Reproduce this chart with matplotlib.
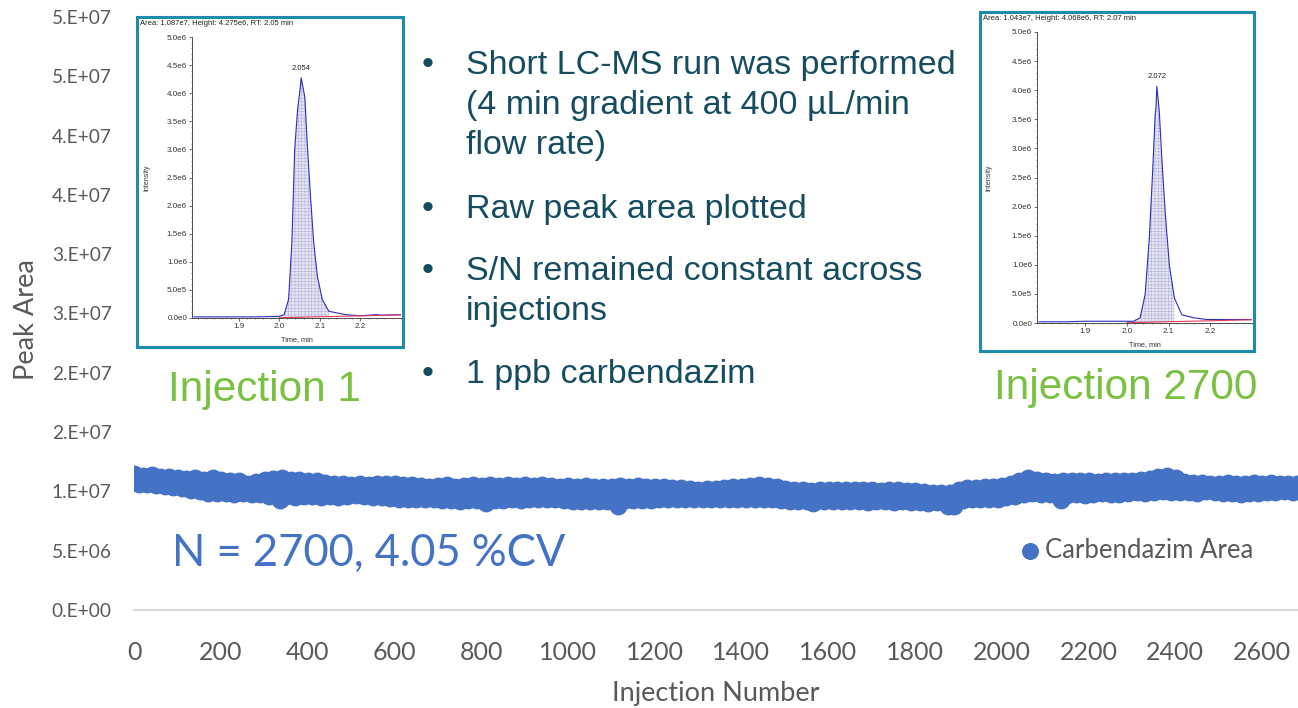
import numpy as np
import matplotlib
matplotlib.use("Agg")
import matplotlib.pyplot as plt
from matplotlib.patches import Rectangle
from matplotlib.ticker import AutoMinorLocator, FuncFormatter

W, H = 1298, 708

# carbendazim peak area, read every 5th injection (units of 1e6), one row per 100 injections
injection = np.arange(1, 2701, 5)
area_e6 = [
    11.45, 11.0, 10.65, 10.95, 11.3, 10.9, 10.6, 11.0, 11.35, 10.85, 10.5, 10.9, 11.2, 10.8, 10.45, 10.85, 11.25, 10.8, 10.4, 10.75,
    11.1, 10.7, 10.3, 10.7, 11.05, 10.6, 10.15, 10.55, 11.1, 10.5, 10.0, 10.5, 11.0, 10.45, 9.9, 10.5, 11.1, 10.5, 9.85, 10.45,
    10.95, 10.4, 9.85, 10.35, 10.9, 10.4, 9.8, 10.3, 10.85, 10.3, 9.85, 10.25, 10.65, 10.2, 9.8, 10.25, 10.8, 10.3, 9.75, 10.4,
    11.0, 10.4, 9.65, 10.3, 11.05, 10.3, 9.6, 9.3, 11.1, 10.4, 9.6, 10.3, 11.0, 10.3, 9.55, 10.2, 10.95, 10.25, 9.6, 10.3,
    10.9, 10.25, 9.6, 10.2, 10.85, 10.2, 9.55, 10.2, 10.75, 10.15, 9.6, 10.1, 10.65, 10.1, 9.55, 10.05, 10.6, 10.1, 9.6, 10.1,
    10.5, 10.1, 9.7, 10.1, 10.6, 10.1, 9.65, 10.05, 10.55, 10.0, 9.55, 10.0, 10.65, 10.05, 9.5, 10.0, 10.6, 10.0, 9.45, 10.0,
    10.65, 10.0, 9.4, 9.95, 10.55, 10.0, 9.4, 9.9, 10.5, 9.95, 9.35, 9.9, 10.45, 9.9, 9.4, 9.9, 10.4, 9.9, 9.35, 9.9,
    10.45, 9.85, 9.3, 9.85, 10.5, 9.9, 9.25, 9.85, 10.4, 9.8, 9.2, 9.8, 10.45, 9.85, 9.25, 9.85, 10.5, 9.9, 9.3, 9.9,
    10.45, 9.8, 8.98, 9.8, 10.5, 9.9, 9.3, 9.85, 10.45, 9.9, 9.3, 9.9, 10.5, 9.9, 9.35, 9.9, 10.45, 9.85, 9.3, 9.9,
    10.5, 9.95, 9.4, 9.9, 10.45, 9.9, 9.35, 9.9, 10.5, 9.95, 9.4, 9.95, 10.45, 9.9, 9.4, 9.9, 10.4, 9.9, 9.3, 9.85,
    10.45, 9.8, 9.2, 9.8, 10.4, 9.8, 9.2, 9.8, 10.45, 9.8, 9.15, 9.75, 10.4, 9.8, 9.2, 9.8, 10.35, 9.75, 9.2, 9.8,
    10.4, 9.8, 9.25, 8.75, 10.45, 9.85, 9.25, 9.8, 10.4, 9.8, 9.3, 9.85, 10.45, 9.85, 9.25, 9.8, 10.4, 9.85, 9.3, 9.85,
    10.4, 9.9, 9.4, 9.9, 10.35, 9.85, 9.35, 9.85, 10.3, 9.8, 9.4, 9.8, 10.25, 9.8, 9.35, 9.8, 10.2, 9.75, 9.4, 9.8,
    10.15, 9.75, 9.4, 9.8, 10.2, 9.8, 9.35, 9.75, 10.2, 9.8, 9.4, 9.8, 10.3, 9.8, 9.4, 9.85, 10.35, 9.85, 9.4, 9.9,
    10.4, 9.9, 9.4, 9.9, 10.45, 9.9, 9.4, 9.9, 10.5, 9.95, 9.4, 9.9, 10.45, 9.9, 9.35, 9.85, 10.4, 9.8, 9.3, 9.8,
    10.2, 9.7, 9.2, 9.65, 10.1, 9.65, 9.2, 9.6, 10.1, 9.65, 9.2, 9.65, 10.05, 8.98, 9.15, 9.6, 10.1, 9.65, 9.2, 9.65,
    10.15, 9.65, 9.15, 9.65, 10.1, 9.6, 9.15, 9.6, 10.15, 9.65, 9.2, 9.65, 10.15, 9.65, 9.15, 9.6, 10.1, 9.6, 9.1, 9.6,
    10.1, 9.6, 9.15, 9.6, 10.05, 9.6, 9.15, 9.6, 10.1, 9.6, 9.1, 9.6, 10.1, 9.6, 9.15, 9.6, 10.05, 9.55, 9.1, 9.55,
    10.0, 9.5, 9.1, 9.5, 9.95, 9.5, 9.05, 9.45, 9.9, 9.45, 9.1, 9.45, 9.85, 9.4, 9.1, 8.73, 9.85, 9.4, 8.8, 9.45,
    10.1, 9.6, 9.3, 9.7, 10.25, 9.75, 9.35, 9.75, 10.3, 9.8, 9.35, 9.8, 10.35, 9.85, 9.4, 9.85, 10.4, 9.9, 9.4, 9.9,
    10.45, 9.95, 9.5, 10.0, 10.6, 10.1, 9.6, 10.1, 10.9, 10.3, 9.8, 10.3, 11.1, 10.4, 9.85, 10.4, 11.0, 10.4, 9.8, 10.35,
    10.85, 10.3, 9.75, 10.25, 10.8, 10.2, 9.7, 9.3, 10.85, 10.25, 9.7, 10.25, 10.9, 10.3, 9.75, 10.3, 10.85, 10.3, 9.7, 10.3,
    10.85, 10.3, 9.8, 10.3, 10.8, 10.3, 9.85, 10.3, 10.85, 10.35, 9.8, 10.3, 10.9, 10.35, 9.8, 10.35, 10.85, 10.35, 9.85, 10.4,
    10.9, 10.4, 9.95, 10.4, 11.0, 10.45, 9.9, 10.5, 11.05, 10.5, 9.95, 10.55, 11.2, 10.6, 10.0, 10.6, 11.3, 10.6, 9.95, 10.6,
    11.1, 10.5, 9.95, 10.4, 10.8, 10.35, 9.95, 10.35, 10.7, 10.3, 9.9, 10.3, 10.7, 10.35, 10.0, 10.35, 10.65, 10.3, 9.95, 10.3,
    10.65, 10.25, 9.85, 10.25, 10.7, 10.3, 9.85, 10.25, 10.65, 10.25, 9.8, 10.2, 10.6, 10.2, 9.85, 10.25, 10.7, 10.3, 9.9, 10.3,
    10.65, 10.3, 9.95, 10.3, 10.7, 10.3, 9.95, 10.3, 10.65, 10.3, 10.0, 10.3, 10.6, 10.3, 9.95, 10.3, 10.65, 10.3, 9.95, 10.3,
]

x_ticks = [0, 200, 400, 600, 800, 1000, 1200, 1400, 1600, 1800, 2000, 2200, 2400, 2600]
y_ticks = [0, 5e6, 1e7, 1.5e7, 2e7, 2.5e7, 3e7, 3.5e7, 4e7, 4.5e7, 5e7]
y_tick_labels = ['0.E+00', '5.E+06', '1.E+07', '2.E+07', '2.E+07', '3.E+07',
                 '3.E+07', '4.E+07', '4.E+07', '5.E+07', '5.E+07']

# XIC traces for the first and last injection (min, intensity x1e6)
inj1_time = [1.79, 1.85, 1.90, 1.95, 2.00, 2.012, 2.023, 2.031, 2.038, 2.045, 2.051,
             2.054, 2.063, 2.069, 2.077, 2.085, 2.094, 2.106, 2.122, 2.163, 2.20,
             2.24, 2.25, 2.30]
inj1_int = [0.02, 0.02, 0.02, 0.02, 0.03, 0.06, 0.33, 1.33, 2.99, 3.70, 4.05,
            4.275, 3.93, 3.10, 2.16, 1.33, 0.74, 0.33, 0.12, 0.06, 0.04,
            0.06, 0.05, 0.06]
inj2700_time = [1.79, 1.85, 1.90, 1.95, 2.00, 2.016, 2.032, 2.044, 2.054, 2.062,
                2.068, 2.070, 2.072, 2.078, 2.084, 2.092, 2.102, 2.114, 2.132,
                2.16, 2.192, 2.21, 2.30]
inj2700_int = [0.02, 0.02, 0.03, 0.03, 0.03, 0.03, 0.09, 0.49, 1.46, 2.60,
               3.57, 3.70, 4.068, 3.63, 2.83, 1.91, 1.00, 0.43, 0.14,
               0.09, 0.06, 0.06, 0.06]
inj1_header = "Area: 1.087e7, Height: 4.275e6, RT: 2.05 min"
inj2700_header = "Area: 1.043e7, Height: 4.068e6, RT: 2.07 min"

bullets = [
    ["Short LC-MS run was performed", "(4 min gradient at 400 µL/min", "flow rate)"],
    ["Raw peak area plotted"],
    ["S/N remained constant across", "injections"],
    ["1 ppb carbendazim"],
]
bullet_baselines = [74, 218, 280, 383]


def fx(px):
    return px / W


def fy(py):
    return 1 - py / H


BLUE = '#4472C4'
GREY = '#595959'
TEAL = '#154C60'
GREEN = '#7AC142'
BOX = '#1F8CAB'

plt.rcParams['hatch.linewidth'] = 0.3

fig = plt.figure(figsize=(W / 100, H / 100), dpi=100)
ax = fig.add_axes([fx(134), fy(610), fx(1298) - fx(134), fy(17) - fy(610)])
ax.scatter(injection, np.array(area_e6) * 1e6, s=165, color=BLUE, linewidths=0,
           zorder=3, label='Carbendazim Area')
ax.set_xlim(0, 2683)
ax.set_ylim(0, 5e7)
ax.set_xticks(x_ticks)
ax.set_xticklabels([str(t) for t in x_ticks], fontfamily='Lato', fontsize=18, color=GREY)
ax.set_yticks(y_ticks)
ax.set_yticklabels(y_tick_labels, fontfamily='Lato', fontsize=13.8, color=GREY)
ax.tick_params(axis='x', length=0, pad=22)
ax.tick_params(axis='y', length=0, pad=16)
for side in ['top', 'right', 'left']:
    ax.spines[side].set_visible(False)
ax.spines['bottom'].set_color('#D9D9D9')
ax.spines['bottom'].set_linewidth(1.5)

fig.text(fx(27), fy(320), 'Peak Area', rotation=90, ha='center', va='center',
         fontfamily='Lato', fontsize=19.5, color=GREY)
fig.text(fx(716), fy(693), 'Injection Number', ha='center', va='center',
         fontfamily='Lato', fontsize=19.5, color=GREY)

leg = ax.legend(loc='center left', bbox_to_anchor=(fx(1022), fy(550)),
                bbox_transform=fig.transFigure, frameon=False, handlelength=0.66,
                handletextpad=0.25, borderpad=0, borderaxespad=0,
                prop=dict(family='Lato', size=18.5), labelcolor=GREY)
leg.legend_handles[0].set_sizes([150])

fig.text(fx(172), fy(553), 'N = 2700, 4.05 %CV', ha='left', va='center',
         fontfamily='Lato', fontsize=31.4, color=BLUE)
fig.text(fx(264), fy(390), 'Injection 1', ha='center', va='center',
         fontfamily='Liberation Sans', fontsize=30.5, color=GREEN)
fig.text(fx(1126), fy(388), 'Injection 2700', ha='center', va='center',
         fontfamily='Liberation Sans', fontsize=30.5, color=GREEN)

# bullet list
for lines, base in zip(bullets, bullet_baselines):
    fig.text(fx(428), fy(base), '•', ha='center', va='baseline',
             fontfamily='Liberation Sans', fontsize=24.5, color=TEAL)
    for k, line in enumerate(lines):
        fig.text(fx(466), fy(base + 40 * k), line, ha='left', va='baseline',
                 fontfamily='Liberation Sans', fontsize=24.5, color=TEAL)


def sci(v, pos):
    m, e = f"{v:.1e}".split('e')
    return f"{m}e{int(e)}"


def chromatogram(box, frame, t, inten, rt_label, header, ylab_x, xlab_y):
    x0, y0, x1, y1 = box
    fig.add_artist(Rectangle((fx(x0), fy(y1)), fx(x1) - fx(x0), fy(y0) - fy(y1),
                             transform=fig.transFigure, facecolor='white',
                             edgecolor=BOX, linewidth=2.2, zorder=1))
    l, t_, r, b = frame
    a = fig.add_axes([fx(l), fy(b), fx(r) - fx(l), fy(t_) - fy(b)])
    a.set_zorder(2)
    a.patch.set_alpha(0)
    ti = np.array(t)
    yi = np.array(inten) * 1e6
    base = np.interp(ti, [2.0, 2.30], [0.005e6, 0.055e6])
    pk = (ti >= 2.0) & (ti <= 2.13)
    a.fill_between(ti[pk], base[pk], yi[pk], facecolor='#E4E4F2', edgecolor='#A4A4D0',
                   hatch='+++++', linewidth=0)
    a.plot(ti, yi, color='#2E2EBE', lw=0.8)
    a.plot([2.0, 2.30], [0.005e6, 0.055e6], color='#E8385A', lw=0.8)
    imax = int(np.argmax(yi))
    a.text(ti[imax], yi[imax] + 0.1e6, rt_label, ha='center', va='bottom',
           fontsize=5.5, fontfamily='Liberation Sans', color='#222222')
    a.set_xlim(1.785, 2.30)
    a.set_ylim(0, 5e6)
    a.set_xticks([1.9, 2.0, 2.1, 2.2])
    a.set_yticks(np.arange(0, 5.01e6, 0.5e6))
    a.yaxis.set_major_formatter(FuncFormatter(sci))
    a.xaxis.set_minor_locator(AutoMinorLocator(5))
    a.yaxis.set_minor_locator(AutoMinorLocator(5))
    a.tick_params(labelsize=5.8, length=2, width=0.5, pad=1.5, colors='#333333')
    a.tick_params(which='minor', length=1, width=0.4, colors='#333333')
    for lab in a.get_xticklabels() + a.get_yticklabels():
        lab.set_fontfamily('Liberation Sans')
    for side in ['top', 'right']:
        a.spines[side].set_visible(False)
    for side in ['left', 'bottom']:
        a.spines[side].set_linewidth(0.6)
        a.spines[side].set_color('#333333')
    fig.text(fx(x0 + 3), fy(y0 + 3), header, ha='left', va='top', fontsize=5.5,
             fontfamily='Liberation Sans', color='#222222', zorder=3)
    fig.text(fx(ylab_x), fy((t_ + b) / 2), 'Intensity', rotation=90, ha='center',
             va='center', fontsize=5, fontfamily='Liberation Sans', color='#333333',
             zorder=3)
    fig.text(fx((l + r) / 2), fy(xlab_y), 'Time, min', ha='center', va='center',
             fontsize=5.3, fontfamily='Liberation Sans', color='#333333', zorder=3)


chromatogram((137, 17, 403, 347), (192, 37, 401, 318), inj1_time, inj1_int,
             '2.054', inj1_header, 147, 340)
chromatogram((980, 12, 1254, 351), (1037, 32, 1252, 323), inj2700_time, inj2700_int,
             '2.072', inj2700_header, 989, 345)

fig.savefig('out.png', dpi=100)
